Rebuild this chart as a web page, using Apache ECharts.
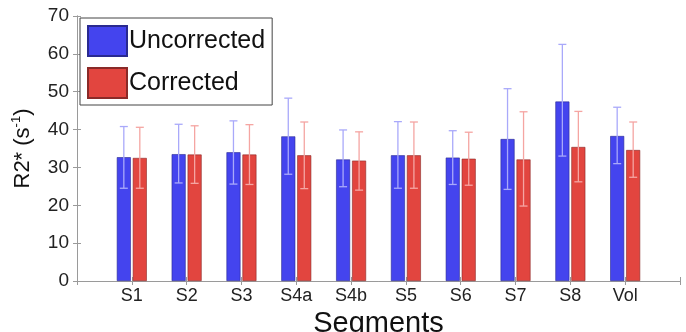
<!DOCTYPE html>
<html>
<head>
    <meta charset="utf-8">
    <title>R2* segments</title>
    <script src="https://cdn.jsdelivr.net/npm/echarts@6/dist/echarts.min.js"></script>
    <style>
        html, body { margin: 0; padding: 0; background: #fff; }
        #main { width: 686px; height: 332px; }
    </style>
</head>
<body>
<div id="main"></div>
<script type="text/javascript">
// 数据
var segments = ['S1', 'S2', 'S3', 'S4a', 'S4b', 'S5', 'S6', 'S7', 'S8', 'Vol'];
var uncorrected = [32.7, 33.5, 34.0, 38.2, 32.1, 33.2, 32.6, 37.5, 47.4, 38.3];
var uncorrectedLo = [24.5, 25.9, 25.6, 28.2, 24.9, 24.5, 25.5, 24.2, 33.0, 31.0];
var uncorrectedHi = [40.8, 41.4, 42.3, 48.3, 39.9, 42.1, 39.7, 50.8, 62.5, 45.9];
var corrected = [32.5, 33.4, 33.4, 33.2, 31.8, 33.2, 32.3, 32.1, 35.4, 34.6];
var correctedLo = [24.5, 25.8, 25.5, 24.4, 24.0, 24.5, 25.3, 19.8, 26.2, 27.4];
var correctedHi = [40.6, 41.0, 41.3, 42.0, 39.4, 42.0, 39.3, 44.7, 44.8, 42.0];
var yTicks = [0, 10, 20, 30, 40, 50, 60, 70];

var font = 'Liberation Sans, Arial, sans-serif';
var axisGray = '#9a9a9a';

function pairs(vals) {
    var out = [];
    for (var i = 0; i < vals.length; i++) out.push([i + 1, vals[i]]);
    return out;
}
function errData(lo, hi) {
    var out = [];
    for (var i = 0; i < lo.length; i++) out.push([i + 1, lo[i], hi[i]]);
    return out;
}
// error bar with caps, shifted to sit on its bar
function errRender(offset, color) {
    return function (params, api) {
        var x = api.value(0);
        var p1 = api.coord([x, api.value(1)]);
        var p2 = api.coord([x, api.value(2)]);
        var cx = p1[0] + offset;
        var cap = 4;
        var st = { stroke: color, lineWidth: 1.3 };
        return {
            type: 'group',
            children: [
                { type: 'line', shape: { x1: cx, y1: p1[1], x2: cx, y2: p2[1] }, style: st },
                { type: 'line', shape: { x1: cx - cap, y1: p1[1], x2: cx + cap, y2: p1[1] }, style: st },
                { type: 'line', shape: { x1: cx - cap, y1: p2[1], x2: cx + cap, y2: p2[1] }, style: st }
            ]
        };
    };
}

var myChart = echarts.init(document.getElementById('main'));

myChart.setOption({
    animation: false,
    textStyle: { fontFamily: font },
    grid: { left: 77, right: 6, top: 16, bottom: 51, outerBoundsMode: 'none', containLabel: false },
    legend: {
        left: 80, top: 18,
        orient: 'vertical',
        itemWidth: 39, itemHeight: 30, itemGap: 10,
        padding: [7, 7, 6, 7],
        borderColor: '#444', borderWidth: 1,
        backgroundColor: '#fff',
        icon: 'rect',
        textStyle: { fontSize: 25, color: '#111', fontFamily: font, padding: [0, 0, 0, -3] },
        data: ['Uncorrected', 'Corrected']
    },
    xAxis: [{
        type: 'value', min: 0, max: 11, interval: 1,
        name: 'Segments', nameLocation: 'middle', nameGap: 18,
        nameTextStyle: { fontSize: 29, color: '#111', fontFamily: font },
        axisLine: { lineStyle: { color: axisGray } },
        axisTick: { inside: true, length: 4, lineStyle: { color: axisGray } },
        axisLabel: {
            fontSize: 18, color: '#222', margin: 6,
            formatter: function (v) { return segments[v - 1] || ''; }
        },
        splitLine: { show: false }
    }, {
        type: 'value', min: 0, max: 11, interval: 1, position: 'top',
        axisLine: { lineStyle: { color: axisGray } },
        axisTick: { inside: true, length: 4, lineStyle: { color: axisGray } },
        axisLabel: { show: false },
        splitLine: { show: false }
    }],
    yAxis: [{
        type: 'value', min: yTicks[0], max: yTicks[yTicks.length - 1], interval: 10,
        name: 'R2* (s{sup|-1})', nameLocation: 'middle', nameGap: 42,
        nameTextStyle: {
            fontSize: 22, color: '#111', fontFamily: font,
            rich: { sup: { fontSize: 13, verticalAlign: 'top', padding: [0, 0, 12, 0], color: '#111', fontFamily: font } }
        },
        axisLine: { show: true, lineStyle: { color: axisGray } },
        axisTick: { show: true, inside: true, length: 4, lineStyle: { color: axisGray } },
        axisLabel: { fontSize: 19, color: '#222', margin: 8 },
        splitLine: { show: false }
    }, {
        type: 'value', min: yTicks[0], max: yTicks[yTicks.length - 1], interval: 10, position: 'right',
        axisLine: { show: true, lineStyle: { color: axisGray } },
        axisTick: { show: true, inside: true, length: 4, lineStyle: { color: axisGray } },
        axisLabel: { show: false },
        splitLine: { show: false }
    }],
    series: [{
        name: 'Uncorrected', type: 'bar',
        barWidth: 14, barGap: '14%',
        itemStyle: { color: '#4444ee', borderColor: '#2a2a90', borderWidth: 0.6 },
        data: pairs(uncorrected)
    }, {
        name: 'Corrected', type: 'bar',
        barWidth: 14, barGap: '14%',
        itemStyle: { color: '#e2453f', borderColor: '#8a2a28', borderWidth: 0.6 },
        data: pairs(corrected)
    }, {
        type: 'custom', z: 5, silent: true,
        renderItem: errRender(-8, '#a9a9fa'),
        data: errData(uncorrectedLo, uncorrectedHi)
    }, {
        type: 'custom', z: 5, silent: true,
        renderItem: errRender(8, '#f5a5a2'),
        data: errData(correctedLo, correctedHi)
    }]
});
</script>
</body>
</html>
